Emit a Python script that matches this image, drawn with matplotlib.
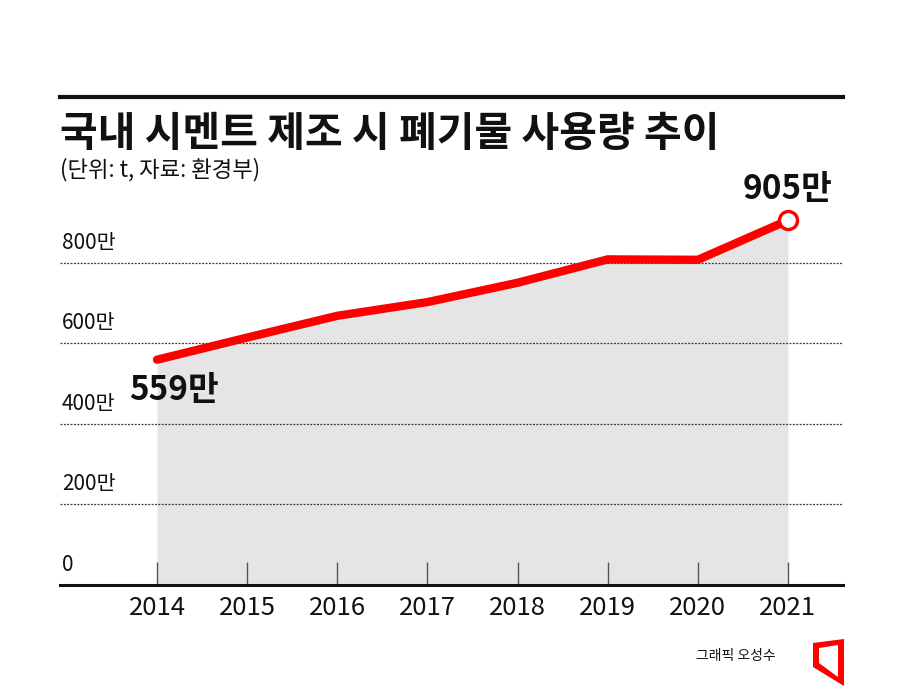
import matplotlib.pyplot as plt
from matplotlib.lines import Line2D
from matplotlib.patches import Polygon
import matplotlib.transforms as mtransforms

plt.rcParams['font.family'] = ['Noto Sans CJK KR', 'DejaVu Sans']

# data (unit: 만 t)
years = [2014, 2015, 2016, 2017, 2018, 2019, 2020, 2021]
usage = [559, 614, 668, 702, 750, 808, 807, 905]
y_ticks = [0, 200, 400, 600, 800]
y_labels = ['0', '200만', '400만', '600만', '800만']

title = '국내 시멘트 제조 시 폐기물 사용량 추이'
subtitle = '(단위: t, 자료: 환경부)'
credit = '그래픽 오성수'

fig = plt.figure(figsize=(9, 6.89), dpi=100)
W, H = 900, 689

# axes placed in pixel terms: left 60, right 843, bottom 585, top 200
ax = fig.add_axes([60 / W, (H - 585) / H, 783 / W, 385 / H])
ax.set_xlim(2014 - 97 / 90.14, 2014 + 686 / 90.14)
ax.set_ylim(0, 385 / 0.403)

# grey area and red line
ax.fill_between(years, usage, 0, color='#e5e5e5', lw=0, zorder=1)
for v in y_ticks[1:]:
    ax.axhline(v, color='#333333', lw=0.9, ls=(0, (1.5, 1.2)), zorder=2)
ax.plot(years, usage, color='#ff0000', lw=6, solid_capstyle='round',
        solid_joinstyle='round', zorder=3)
ax.plot(years[-1], usage[-1], 'o', ms=13, mfc='white', mec='#ff0000',
        mew=2.4, zorder=4, clip_on=False)

# y labels sit above each gridline
trans = mtransforms.blended_transform_factory(ax.transAxes, ax.transData)
offset = mtransforms.ScaledTranslation(0, 20 / 100, fig.dpi_scale_trans)
for v, lab in zip(y_ticks, y_labels):
    ax.text(2 / 783, v, lab, transform=trans + offset, ha='left', va='center',
            fontsize=15, color='#111111')

# value labels
ax.annotate(f'{usage[0]}만', (years[0], usage[0]), xytext=(12, -22),
            textcoords='offset points', ha='center', va='center',
            fontsize=24, fontweight='bold', color='#111111')
ax.annotate(f'{usage[-1]}만', (years[-1], usage[-1]), xytext=(0, 22),
            textcoords='offset points', ha='center', va='center',
            fontsize=24, fontweight='bold', color='#111111', annotation_clip=False)

# x axis
ax.set_xticks(years)
ax.set_xticklabels([str(y) for y in years], fontsize=18.5, color='#111111')
ax.tick_params(axis='x', direction='in', length=16.5, width=1, color='#555555', pad=7)
ax.set_yticks([])
for s in ['top', 'right', 'left']:
    ax.spines[s].set_visible(False)
ax.spines['bottom'].set_linewidth(2.2)
ax.spines['bottom'].set_color('#111111')
ax.patch.set_alpha(0)

# top rule, title, subtitle
fig.add_artist(Line2D([60 / W, 843 / W], [1 - 97 / H, 1 - 97 / H],
                      color='#111111', lw=3))
fig.text(60 / W, 1 - 134 / H, title, fontsize=29.5, fontweight='bold',
         ha='left', va='center', color='#111111')
fig.text(60 / W, 1 - 170 / H, subtitle, fontsize=16, ha='left', va='center',
         color='#111111')

# credit and logo
fig.text(776 / W, 1 - 656 / H, credit, fontsize=10, ha='right', va='center',
         color='#111111')
outer = [(813, 643), (844, 639), (844, 686), (813, 667)]
inner = [(819, 648), (838, 645), (838, 677), (819, 663)]
fig.add_artist(Polygon([(x / W, 1 - y / H) for x, y in outer], closed=True,
                       color='#ff0000', lw=0))
fig.add_artist(Polygon([(x / W, 1 - y / H) for x, y in inner], closed=True,
                       color='white', lw=0))

fig.savefig('out.png', dpi=100, facecolor='white')
